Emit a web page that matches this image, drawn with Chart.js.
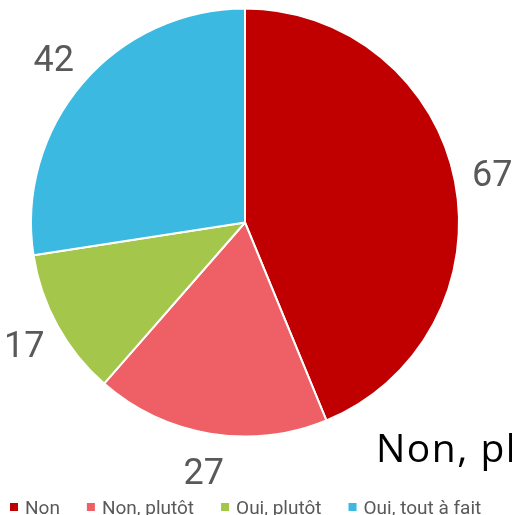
<!DOCTYPE html>
<html>
<head>
<meta charset="utf-8">
<script src="https://cdn.jsdelivr.net/npm/chart.js@4"></script>
<style>
    html, body { margin: 0; padding: 0; background: #fff; }
    #wrap { width: 512px; height: 515px; }
</style>
</head>
<body>
<div id="wrap"><canvas id="answers"></canvas></div>
<script>
const categories = ["Non", "Non, plutôt", "Oui, plutôt", "Oui, tout à fait"];
const counts = [67, 27, 17, 42];
const sliceColors = ["#C00000", "#EE5F66", "#A3C64B", "#3BB9E1"];
const cutTitle = "Non, plutôt";

// numbers outside each slice
const outsideLabels = {
    id: "outsideLabels",
    afterDatasetsDraw(chart) {
        const ctx = chart.ctx;
        const meta = chart.getDatasetMeta(0);
        ctx.save();
        ctx.font = "36px Roboto";
        ctx.fillStyle = "#595959";
        ctx.textAlign = "center";
        ctx.textBaseline = "alphabetic";
        meta.data.forEach(function (arc, i) {
            const p = arc.getProps(["x", "y", "startAngle", "endAngle", "outerRadius"], true);
            const mid = (p.startAngle + p.endAngle) / 2;
            const r = p.outerRadius + 38;
            const x = p.x + Math.cos(mid) * r;
            const y = p.y + Math.sin(mid) * r;
            ctx.fillText(String(chart.data.datasets[0].data[i]), x, y + 12.8);
        });
        ctx.restore();
    }
};

// legend row at the bottom + clipped title text
const bottomLegend = {
    id: "bottomLegend",
    afterDraw(chart) {
        const ctx = chart.ctx;
        ctx.save();
        ctx.font = "19px Roboto";
        ctx.textAlign = "left";
        ctx.textBaseline = "alphabetic";
        let x = 10;
        chart.data.labels.forEach(function (label, i) {
            ctx.fillStyle = chart.data.datasets[0].backgroundColor[i];
            ctx.fillRect(x, 503, 8, 8);
            ctx.fillStyle = "#595959";
            ctx.fillText(label, x + 15, 514);
            x += 15 + ctx.measureText(label).width + 27;
        });

        ctx.font = "39px 'Open Sans'";
        ctx.letterSpacing = "1.5px";
        ctx.fillStyle = "#000";
        ctx.fillText(cutTitle, 376, 462);
        ctx.restore();
    }
};

document.addEventListener("DOMContentLoaded", function () {
    const ctx = document.getElementById("answers").getContext("2d");

    new Chart(ctx, {
        type: "pie",
        data: {
            labels: categories,
            datasets: [
                {
                    data: counts,
                    backgroundColor: sliceColors,
                    borderColor: "#ffffff",
                    borderWidth: 2,
                    hoverOffset: 0
                }
            ]
        },
        options: {
            responsive: true,
            maintainAspectRatio: false,
            animation: false,
            events: [],
            radius: 214,
            layout: {
                padding: { left: 31, right: 53, top: 8, bottom: 78 }
            },
            plugins: {
                legend: { display: false },
                tooltip: { enabled: false }
            }
        },
        plugins: [outsideLabels, bottomLegend]
    });
});
</script>
</body>
</html>
